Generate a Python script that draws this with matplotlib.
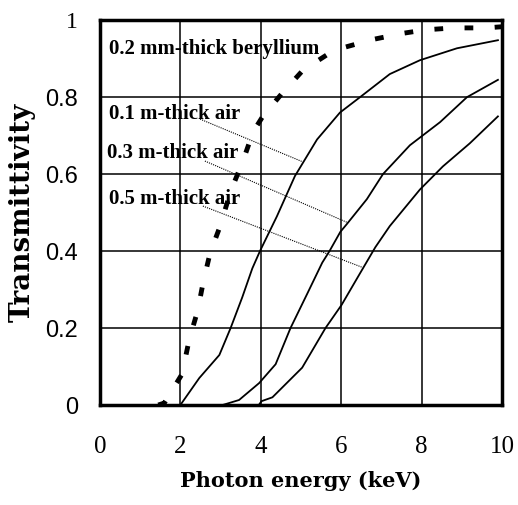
import numpy as np
import matplotlib.pyplot as plt

# Photon energy (keV) vs transmittivity
be_x = [1.45, 1.6, 2.04, 2.22, 2.43, 2.57, 2.74, 2.99, 3.25, 3.56, 3.81, 4.05, 4.53, 5.05, 5.72, 6.1, 6.79, 7.54, 8.1, 8.8, 9.6, 10.0]
be_y = [0.0, 0.005, 0.08, 0.17, 0.245, 0.32, 0.395, 0.465, 0.555, 0.635, 0.71, 0.75, 0.81, 0.87, 0.915, 0.93, 0.95, 0.966, 0.975, 0.98, 0.98, 0.983]

air1_x = [2.0, 2.47, 2.97, 3.25, 3.54, 3.79, 3.98, 4.4, 4.85, 5.4, 5.97, 6.47, 7.21, 7.96, 8.88, 9.9]
air1_y = [0.0, 0.07, 0.13, 0.20, 0.28, 0.355, 0.40, 0.49, 0.595, 0.69, 0.76, 0.80, 0.86, 0.896, 0.927, 0.948]

air3_x = [3.05, 3.46, 3.96, 4.37, 4.74, 5.16, 5.53, 5.71, 5.98, 6.14, 6.64, 7.04, 7.71, 8.46, 9.13, 9.9]
air3_y = [0.0, 0.013, 0.057, 0.106, 0.20, 0.29, 0.37, 0.40, 0.45, 0.47, 0.535, 0.60, 0.675, 0.735, 0.80, 0.845]

air5_x = [3.95, 4.02, 4.29, 5.03, 5.61, 6.01, 6.44, 6.85, 7.21, 7.96, 8.53, 9.2, 9.9]
air5_y = [0.0, 0.01, 0.02, 0.097, 0.20, 0.26, 0.337, 0.41, 0.465, 0.56, 0.62, 0.68, 0.75]

x_ticks = [0, 2, 4, 6, 8, 10]
y_ticks = [0, 0.2, 0.4, 0.6, 0.8, 1]
y_ticklabels = ["0", "0.2", "0.4", "0.6", "0.8", "1"]

fig = plt.figure(figsize=(5.18, 5.05), dpi=100)
ax = fig.add_axes([0.193, 0.198, 0.776, 0.762])

ax.plot(be_x, be_y, color="black", lw=3.5, linestyle=(0, (1.8, 4.4)), solid_capstyle="butt")
ax.plot(air1_x, air1_y, color="black", lw=1.3)
ax.plot(air3_x, air3_y, color="black", lw=1.3)
ax.plot(air5_x, air5_y, color="black", lw=1.3)

# labels and leader lines
lab = dict(fontsize=15, family="Liberation Serif", fontweight="bold", va="center", ha="left")
ax.text(0.22, 0.925, "0.2 mm-thick beryllium", **lab)
ax.text(0.22, 0.755, "0.1 m-thick air", **lab)
ax.text(0.18, 0.655, "0.3 m-thick air", **lab)
ax.text(0.22, 0.535, "0.5 m-thick air", **lab)
lead = dict(color="black", lw=0.8, linestyle=(0, (1, 1)))
ax.plot([2.49, 5.02], [0.743, 0.633], **lead)
ax.plot([2.61, 6.14], [0.634, 0.475], **lead)
ax.plot([2.56, 6.52], [0.517, 0.358], **lead)

ax.set_xlim(0, 10)
ax.set_ylim(0, 1)
ax.set_xticks(x_ticks)
ax.set_yticks(y_ticks)
ax.set_yticklabels(y_ticklabels)
ax.grid(True, color="black", lw=1.1)
ax.tick_params(length=0)
ax.tick_params(axis="x", pad=22, labelsize=18)
ax.tick_params(axis="y", pad=16, labelsize=17)
for t in ax.get_xticklabels():
    t.set_family("Liberation Serif")
for t in ax.get_yticklabels():
    t.set_family("Liberation Sans")
ax.get_yticklabels()[-1].set_family("Liberation Serif")
for s in ax.spines.values():
    s.set_linewidth(2.5)

ax.set_xlabel("Photon energy (keV)", fontsize=15, family="DejaVu Serif", fontweight="bold", labelpad=10)
ax.set_ylabel("Transmittivity", fontsize=20, family="DejaVu Serif", fontweight="bold")
ax.yaxis.set_label_coords(-0.16, 0.5)

fig.savefig("out.png", dpi=100)
